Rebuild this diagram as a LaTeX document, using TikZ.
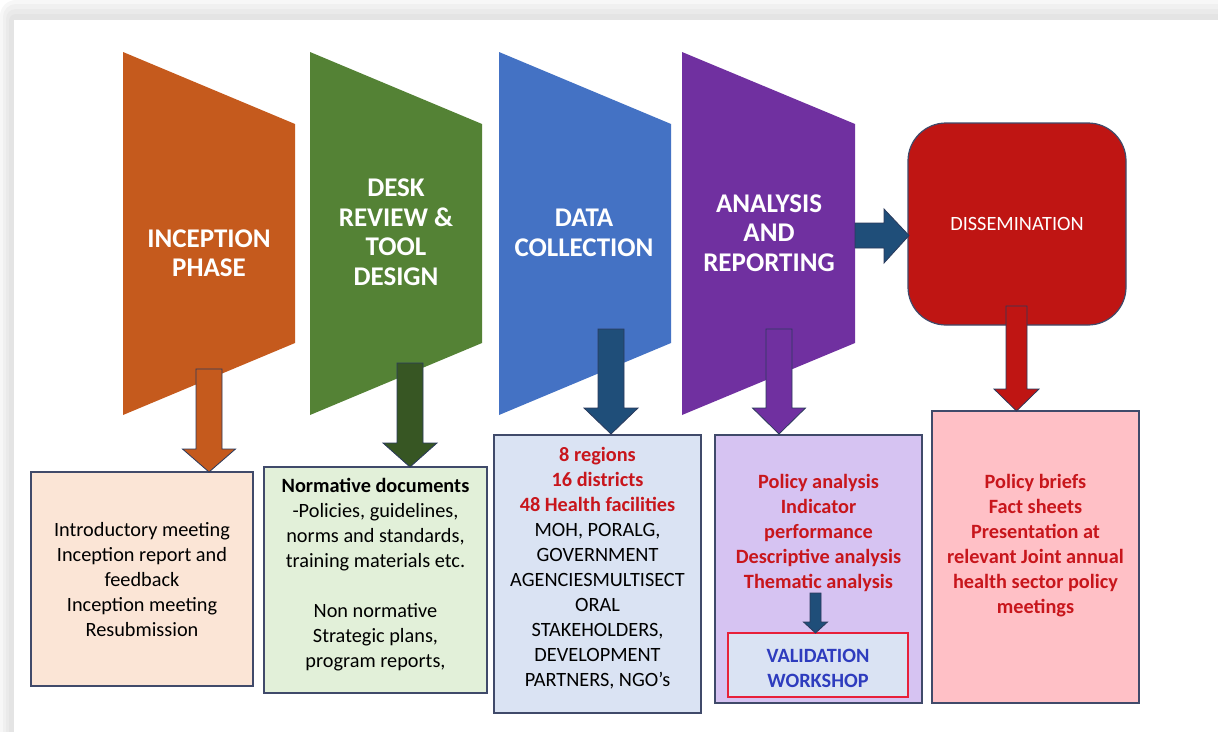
\documentclass[tikz,border=0pt]{standalone}
\usepackage{fontspec}
\setmainfont{Carlito}
\definecolor{stageorange}{HTML}{C55A1D}
\definecolor{stagegreen}{HTML}{548235}
\definecolor{stageblue}{HTML}{4472C4}
\definecolor{stagepurple}{HTML}{7030A0}
\definecolor{dissred}{HTML}{BF1513}
\definecolor{navyarrow}{HTML}{1F4E79}
\definecolor{darkgreenarrow}{HTML}{375623}
\definecolor{boxline}{HTML}{404A6A}
\definecolor{arrowline}{HTML}{2B3A5C}
\definecolor{peachfill}{HTML}{FBE5D6}
\definecolor{mintfill}{HTML}{E2F0D9}
\definecolor{paleblue}{HTML}{DAE3F3}
\definecolor{lavender}{HTML}{D6C3F2}
\definecolor{pinkfill}{HTML}{FFC0C6}
\definecolor{redtext}{HTML}{C8161C}
\definecolor{valblue}{HTML}{2E3CBE}
\definecolor{valred}{HTML}{E8203A}
\definecolor{frameA}{HTML}{F7F7F7}
\definecolor{frameB}{HTML}{F0F0F0}
\definecolor{frameC}{HTML}{EAEAEA}
\definecolor{frameD}{HTML}{E4E4E4}

% downward block arrow: fill, x centre, y top, shaft half-width, head half-width, y of head base, y of tip
\newcommand\blockdown[7]{%
  \filldraw[fill=#1,draw=arrowline,line width=0.8pt,line join=miter]
    (#2-#4,#3) -- (#2+#4,#3) -- (#2+#4,#6) -- (#2+#5,#6) -- (#2,#7)
    -- (#2-#5,#6) -- (#2-#4,#6) -- cycle;}

\begin{document}
\begin{tikzpicture}[x=1pt,y=-1pt,
  stage/.style={text=white,font=\bfseries\fontsize{27}{29.5}\selectfont,align=center,inner sep=0pt},
  infobox/.style={draw=boxline,line width=1.3pt,inner sep=0pt},
  body/.style={align=center,font=\fontsize{20.3}{25}\selectfont,inner sep=0pt},
  redbody/.style={body,text=redtext,font=\bfseries\fontsize{20.3}{25}\selectfont},
]
\useasboundingbox (0,0) rectangle (1218,731);

% soft grey frame around the card
\fill[frameA,rounded corners=16pt] (0,0) rectangle (1260,780);
\fill[frameB,rounded corners=13pt] (3,4) rectangle (1260,780);
\fill[frameC,rounded corners=10pt] (6,9) rectangle (1260,780);
\fill[frameD,rounded corners=7pt] (9,14) rectangle (1260,780);
\fill[white] (14,20) rectangle (1260,780);

% stage trapezoids
\fill[stageorange] (123,52) -- (295,124) -- (295,343) -- (123,415) -- cycle;
\fill[stagegreen]  (310,52) -- (482,124) -- (482,343) -- (310,415) -- cycle;
\fill[stageblue]   (499,52) -- (671,124) -- (671,343) -- (499,415) -- cycle;
\fill[stagepurple] (682,52) -- (855,124) -- (855,343) -- (682,415) -- cycle;

\node[stage] (inception) at (209,253) {INCEPTION\\PHASE};
\node[stage] (desk) at (396,232) {DESK\\REVIEW \&\\TOOL\\DESIGN};
\node[stage] (data) at (584,233) {DATA\\COLLECTION};
\node[stage] (analysis) at (769,233) {ANALYSIS\\AND\\REPORTING};

% dissemination block
\node[draw=boxline,line width=1.2pt,fill=dissred,rounded corners=38pt,
      minimum width=218,minimum height=202,text=white,
      font=\fontsize{20.3}{24}\selectfont] (diss) at (1017,224) {DISSEMINATION};

% output boxes
\node[infobox,fill=peachfill,minimum width=222,minimum height=214] (introbox) at (142,579) {};
\node[infobox,fill=mintfill,minimum width=223,minimum height=226] (deskbox) at (375.5,580) {};
\node[infobox,fill=paleblue,minimum width=207,minimum height=278] (databox) at (597.5,574) {};
\node[infobox,fill=lavender,minimum width=207,minimum height=268] (analysisbox) at (818.5,569) {};
\node[infobox,fill=pinkfill,minimum width=207,minimum height=292] (dissbox) at (1035.5,557) {};

\node[body] (introtext) at (142,580) {Introductory meeting\\Inception report and\\feedback\\Inception meeting\\Resubmission};
\node[body] (desktext) at (375.5,575) {\textbf{Normative documents}\\-Policies, guidelines,\\norms and standards,\\training materials etc.\\[25pt]Non normative\\Strategic plans,\\program reports,};
\node[body] (datatext) at (597.5,568) {\textcolor{redtext}{\textbf{8 regions}}\\\textcolor{redtext}{\textbf{16 districts}}\\\textcolor{redtext}{\textbf{48 Health facilities}}\\MOH, PORALG,\\GOVERNMENT\\AGENCIESMULTISECT\\ORAL\\STAKEHOLDERS,\\DEVELOPMENT\\PARTNERS, NGO’s};
\node[redbody] (analysistext) at (818.5,533) {Policy analysis\\Indicator\\performance\\Descriptive analysis\\Thematic analysis};
\node[redbody] (disstext) at (1035.5,545.5) {Policy briefs\\Fact sheets\\Presentation at\\relevant Joint annual\\health sector policy\\meetings};

% validation workshop
\node[draw=valred,line width=1.2pt,fill=paleblue,minimum width=180,minimum height=64,
      text=valblue,align=center,font=\bfseries\fontsize{20.3}{25}\selectfont,inner sep=0pt]
      (validation) at (818,665) {};
\node[text=valblue,align=center,font=\bfseries\fontsize{20.3}{25}\selectfont,inner sep=0pt]
      (validationtext) at (818,668.5) {VALIDATION\\WORKSHOP};

% block arrows from stages to their outputs
\blockdown{stageorange}{209}{369}{13}{26.5}{449}{472}
\blockdown{darkgreenarrow}{410}{363}{13}{27}{443}{467}
\blockdown{navyarrow}{611}{329}{13}{27}{408}{434}
\blockdown{stagepurple}{779}{329}{13}{26.5}{408}{434}
\blockdown{dissred}{1016.5}{306}{10.5}{22.5}{389}{411}
\blockdown{navyarrow}{815.5}{593}{5.5}{12}{622}{633}

% arrow from analysis to dissemination
\filldraw[fill=navyarrow,draw=arrowline,line width=0.8pt]
  (855,223) -- (884,223) -- (884,209) -- (909,235.5) -- (884,263) -- (884,248) -- (855,248) -- cycle;

\end{tikzpicture}
\end{document}
